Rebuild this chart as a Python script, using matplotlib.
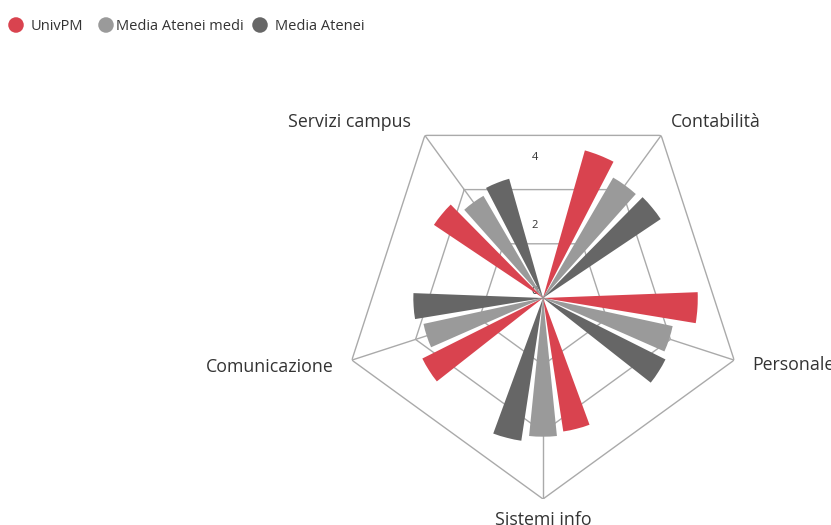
import numpy as np
import matplotlib
matplotlib.use("Agg")
import matplotlib.pyplot as plt

plt.rcParams['font.family'] = ['Open Sans', 'DejaVu Sans']

categories = ['Servizi campus', 'Contabilità', 'Personale', 'Sistemi info', 'Comunicazione']
series_names = ['UnivPM', 'Media Atenei medi', 'Media Atenei']
univpm = [3.92, 4.58, 4.62, 4.03, 4.03]
media_medi = [3.53, 4.16, 3.96, 4.14, 3.65]
media_atenei = [3.70, 4.23, 4.09, 4.31, 3.87]
colors = ['#d9434f', '#9a9a9a', '#666666']
r_max = 6
ring_values = [2, 4, 6]
tick_labels = ['0', '2', '4']

fig = plt.figure(figsize=(8.31, 5.25), dpi=100)
W, H = 831, 525
cx, cy, R = 543, 298, 201
ax = fig.add_axes([(cx - R) / W, (H - cy - R) / H, 2 * R / W, 2 * R / H], projection='polar')
ax.set_theta_direction(-1)
ax.set_theta_offset(np.radians(126))
ax.set_ylim(0, r_max)
ax.grid(False)
ax.spines['polar'].set_visible(False)
ax.set_xticks([])
ax.set_yticks([])
ax.patch.set_alpha(0)

n = len(categories)
theta = np.arange(n) * 2 * np.pi / n
step = 2 * np.pi / n / 5
bar_w = step * 0.8

# pentagon rings and spokes
closed = np.append(theta, theta[0])
for rv in ring_values:
    ax.plot(closed, [rv] * (n + 1), color='#aaaaaa', lw=1, zorder=1)
for t in theta:
    ax.plot([t, t], [0, r_max], color='#aaaaaa', lw=1, zorder=1)

# radial labels along the upward direction
up = np.radians(126 - 90)
for val, lab in zip([0, 2, 4], tick_labels):
    ax.annotate(lab, (up, val), xytext=(-5, 6), textcoords='offset pixels',
                ha='right', va='center', fontsize=8, color='#333333', zorder=2)

for k, vals in enumerate([univpm, media_medi, media_atenei]):
    ax.bar(theta + (k - 1) * step, vals, width=bar_w, color=colors[k],
           edgecolor='none', zorder=3)

# category labels at the outer vertices
offsets = [(-14, 13, 'right'), (10, 13, 'left'), (18, -5, 'left'),
           (0, -21, 'center'), (-18, -7, 'right')]
for t, lab, (dx, dy, ha) in zip(theta, categories, offsets):
    ax.annotate(lab, (t, r_max), xytext=(dx, dy), textcoords='offset pixels',
                ha=ha, va='center', fontsize=12.8, color='#333333',
                annotation_clip=False)

# legend row
leg = fig.add_axes([0, 0, 1, 1])
leg.set_xlim(0, W)
leg.set_ylim(H, 0)
leg.axis('off')
marker_x = [16, 106, 260]
text_x = [31, 116, 275]
for mx, tx, name, c in zip(marker_x, text_x, series_names, colors):
    leg.scatter([mx], [25], s=125, color=c, edgecolor='none')
    leg.text(tx, 26, name, ha='left', va='center', fontsize=10.5, color='#333333')

fig.savefig('out.png', dpi=100)
